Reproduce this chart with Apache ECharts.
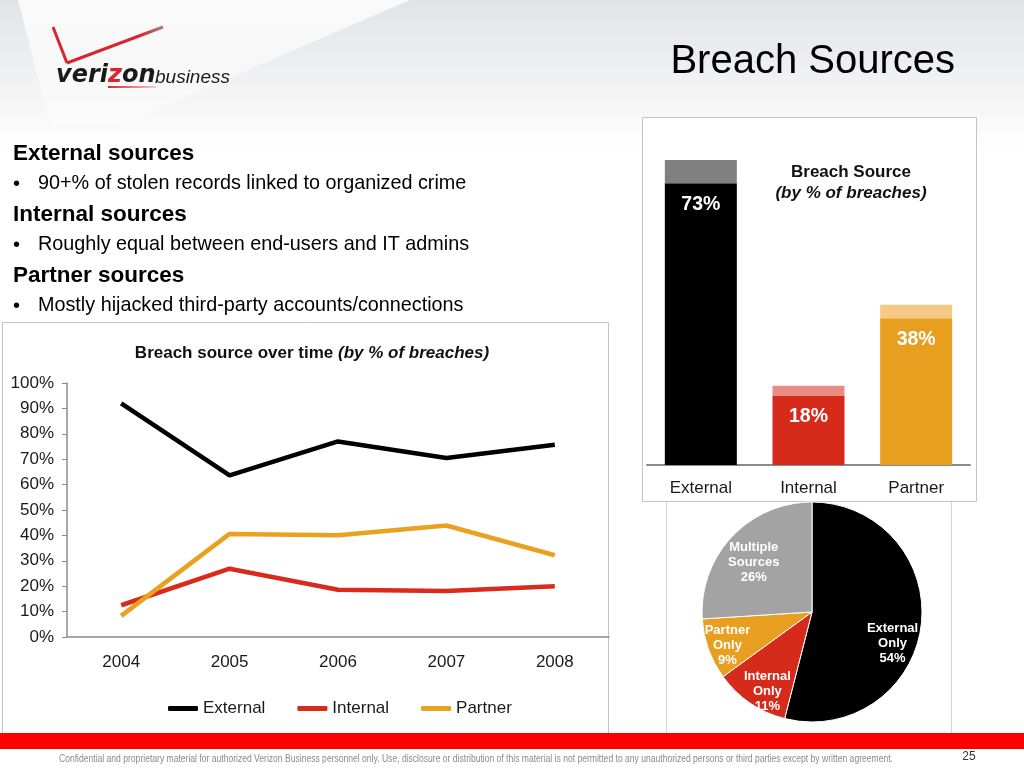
<!DOCTYPE html>
<html><head><meta charset="utf-8">
<script src="https://cdn.jsdelivr.net/npm/echarts@6/dist/echarts.min.js"></script>
<style>html,body{margin:0;padding:0;background:#fff}#c{width:1024px;height:768px}</style>
</head><body><div id="c"></div>
<script>
// ---- data ----
const years = ['2004', '2005', '2006', '2007', '2008'];
const externalOverTime = [92, 63.6, 77, 70.5, 75.7];
const internalOverTime = [12.5, 26.9, 18.6, 18.1, 20];
const partnerOverTime = [8.3, 40.6, 40.1, 43.9, 32.2];
const lineSeriesNames = ['External', 'Internal', 'Partner'];

const barCategories = ['External', 'Internal', 'Partner'];
const barConfirmed = [73, 18, 38];
const barSuspected = [6, 2.5, 3.5];

const pieNames = ['External\nOnly', 'Internal\nOnly', 'Partner\nOnly', 'Multiple\nSources'];
const pieValues = [54, 11, 9, 26];

// ---- styles ----
const F = '"Liberation Sans", Arial, Helvetica, sans-serif';
const lineColors = ['#000000', '#d92b1b', '#e8a220'];
const barMain = ['#000000', '#d62a1a', '#e89e1f'];
const barCap = ['#808080', '#ea8c84', '#f6ca86'];
const pieColors = ['#000000', '#d62a1a', '#e89e1f', '#a3a3a3'];
const pieLabelShift = [[23, 24], [-12, 31], [-30, 14], [-16, -10]];

const chart = echarts.init(document.getElementById('c'), null, { renderer: 'canvas' });

const graphic = [
  // background
  { type: 'rect', z: -100, shape: { x: 0, y: 0, width: 1024, height: 768 }, style: { fill: '#ffffff' } },
  { type: 'rect', z: -99, shape: { x: 0, y: 0, width: 1024, height: 150 },
    style: { fill: new echarts.graphic.LinearGradient(0, 0, 0, 1, [
      { offset: 0, color: '#e1e3e4' }, { offset: 0.7, color: '#f6f6f7' }, { offset: 1, color: '#ffffff' }]) } },
  { type: 'polygon', z: -98, shape: { points: [[18, 0], [410, 0], [120, 125], [50, 125]] },
    style: { fill: new echarts.graphic.LinearGradient(0, 0, 0, 1, [
      { offset: 0, color: 'rgba(252,252,252,0.95)' }, { offset: 1, color: 'rgba(255,255,255,0.3)' }]) } },
  // boxes
  { type: 'rect', z: -90, shape: { x: 2.5, y: 322.5, width: 606, height: 420 }, style: { fill: '#fff', stroke: '#c4c4c4', lineWidth: 1 } },
  { type: 'rect', z: -90, shape: { x: 666.5, y: 495, width: 285, height: 250 }, style: { fill: '#fff', stroke: '#d4d4d4', lineWidth: 1 } },
  { type: 'rect', z: -89, shape: { x: 642.5, y: 117.5, width: 334, height: 384 }, style: { fill: '#fff', stroke: '#c4c4c4', lineWidth: 1 } },
  // red band
  { type: 'rect', z: 50, shape: { x: 0, y: 733, width: 1024, height: 16 }, style: { fill: '#ff0000' } },
  { type: 'rect', z: 50, shape: { x: 0, y: 749, width: 1024, height: 19 }, style: { fill: '#ffffff' } },
  // logo
  { type: 'polyline', z: 20, shape: { points: [[53, 27], [67, 63]] }, style: { stroke: '#d8262e', lineWidth: 3, fill: null } },
  { type: 'polyline', z: 20, shape: { points: [[67, 63], [163, 27]] },
    style: { fill: null, lineWidth: 3, stroke: new echarts.graphic.LinearGradient(0, 0, 1, 0, [
      { offset: 0, color: '#d8262e' }, { offset: 0.75, color: '#d8262e' }, { offset: 1, color: '#9a8f92' }]) } },
  { type: 'text', z: 20, style: { x: 56, y: 76, text: '{a|veri}{z|z}{a|on}', verticalAlign: 'middle',
    rich: { a: { fontFamily: '"DejaVu Sans", sans-serif', fontWeight: 'bold', fontStyle: 'italic', fontSize: 24, fill: '#1a1a1a' },
            z: { fontFamily: '"DejaVu Sans", sans-serif', fontWeight: 'bold', fontStyle: 'italic', fontSize: 24, fill: '#d8262e' } } } },
  { type: 'rect', z: 20, shape: { x: 108, y: 86, width: 48, height: 2 },
    style: { fill: new echarts.graphic.LinearGradient(0, 0, 1, 0, [{ offset: 0, color: '#d8262e' }, { offset: 1, color: 'rgba(216,38,46,0.2)' }]) } },
  { type: 'text', z: 20, style: { x: 155, y: 78, text: 'business', verticalAlign: 'middle', font: 'italic 19px ' + F, fill: '#1a1a1a' } },
  // title
  { type: 'text', z: 20, style: { x: 955, y: 62, text: 'Breach Sources', align: 'right', verticalAlign: 'middle', font: '40px ' + F, fill: '#000' } },
  // left text
  { type: 'text', z: 20, style: { x: 13, y: 154, text: 'External sources', verticalAlign: 'middle', font: 'bold 22.5px ' + F, fill: '#000' } },
  { type: 'text', z: 20, style: { x: 13, y: 184, text: '•', verticalAlign: 'middle', font: '20px ' + F, fill: '#000' } },
  { type: 'text', z: 20, style: { x: 38, y: 184, text: '90+% of stolen records linked to organized crime', verticalAlign: 'middle', font: '19.8px ' + F, fill: '#000' } },
  { type: 'text', z: 20, style: { x: 13, y: 215, text: 'Internal sources', verticalAlign: 'middle', font: 'bold 22.5px ' + F, fill: '#000' } },
  { type: 'text', z: 20, style: { x: 13, y: 245, text: '•', verticalAlign: 'middle', font: '20px ' + F, fill: '#000' } },
  { type: 'text', z: 20, style: { x: 38, y: 245, text: 'Roughly equal between end-users and IT admins', verticalAlign: 'middle', font: '19.8px ' + F, fill: '#000' } },
  { type: 'text', z: 20, style: { x: 13, y: 276, text: 'Partner sources', verticalAlign: 'middle', font: 'bold 22.5px ' + F, fill: '#000' } },
  { type: 'text', z: 20, style: { x: 13, y: 306, text: '•', verticalAlign: 'middle', font: '20px ' + F, fill: '#000' } },
  { type: 'text', z: 20, style: { x: 38, y: 306, text: 'Mostly hijacked third-party accounts/connections', verticalAlign: 'middle', font: '19.8px ' + F, fill: '#000' } },
  // chart titles
  { type: 'text', z: 20, style: { x: 312, y: 353, text: '{b|Breach source over time }{i|(by % of breaches)}', align: 'center', verticalAlign: 'middle',
    rich: { b: { fontFamily: F, fontWeight: 'bold', fontSize: 17, fill: '#111' }, i: { fontFamily: F, fontWeight: 'bold', fontStyle: 'italic', fontSize: 17, fill: '#111' } } } },
  { type: 'text', z: 20, style: { x: 851, y: 172, text: 'Breach Source', align: 'center', verticalAlign: 'middle', font: 'bold 17px ' + F, fill: '#111' } },
  { type: 'text', z: 20, style: { x: 851, y: 193, text: '(by % of breaches)', align: 'center', verticalAlign: 'middle', font: 'italic bold 17px ' + F, fill: '#111' } },
  // footer
  { type: 'text', z: 60, x: 59, y: 759, scaleX: 0.856, originX: 0, originY: 0,
    style: { x: 0, y: 0, text: 'Confidential and proprietary material for authorized Verizon Business personnel only. Use, disclosure or distribution of this material is not permitted to any unauthorized persons or third parties except by written agreement.',
    verticalAlign: 'middle', font: '10px ' + F, fill: '#8a8a8a' } },
  { type: 'text', z: 60, style: { x: 969, y: 757, text: '25', align: 'center', verticalAlign: 'middle', font: '12px ' + F, fill: '#333' } }
];

const option = {
  animation: false,
  textStyle: { fontFamily: F },
  graphic: graphic,
  legend: {
    data: lineSeriesNames, left: 168, top: 700, padding: 0, icon: 'roundRect', itemWidth: 30, itemHeight: 5, itemGap: 32,
    textStyle: { fontSize: 17, color: '#1a1a1a', fontFamily: F }
  },
  grid: [
    { left: 67, right: 415, top: 383, bottom: 131 },
    { left: 647, right: 54, top: 79, bottom: 303 }
  ],
  xAxis: [
    { type: 'category', gridIndex: 0, data: years, boundaryGap: true,
      axisLine: { lineStyle: { color: '#8c8c8c', width: 1.5 } }, axisTick: { show: false },
      axisLabel: { fontSize: 17, color: '#1a1a1a', margin: 17, fontFamily: F } },
    { type: 'category', gridIndex: 1, data: barCategories,
      axisLine: { lineStyle: { color: '#8a8a8a', width: 2 } }, axisTick: { show: false },
      axisLabel: { fontSize: 17, color: '#1a1a1a', margin: 15, fontFamily: F } }
  ],
  yAxis: [
    { type: 'value', gridIndex: 0, min: 0, max: 100, interval: 10,
      axisLine: { show: true, lineStyle: { color: '#8c8c8c', width: 1.5 } },
      axisTick: { show: true, length: 5, lineStyle: { color: '#8c8c8c' } },
      splitLine: { show: false },
      axisLabel: { formatter: '{value}%', fontSize: 17, color: '#1a1a1a', margin: 13, fontFamily: F } },
    { type: 'value', gridIndex: 1, min: 0, max: 100, show: false }
  ],
  series: [
    { name: lineSeriesNames[0], type: 'line', xAxisIndex: 0, yAxisIndex: 0, data: externalOverTime, symbol: 'none',
      itemStyle: { color: lineColors[0] }, lineStyle: { width: 4.5, color: lineColors[0] } },
    { name: lineSeriesNames[1], type: 'line', xAxisIndex: 0, yAxisIndex: 0, data: internalOverTime, symbol: 'none',
      itemStyle: { color: lineColors[1] }, lineStyle: { width: 4.5, color: lineColors[1] } },
    { name: lineSeriesNames[2], type: 'line', xAxisIndex: 0, yAxisIndex: 0, data: partnerOverTime, symbol: 'none',
      itemStyle: { color: lineColors[2] }, lineStyle: { width: 4.5, color: lineColors[2] } },
    { name: 'confirmed', type: 'bar', xAxisIndex: 1, yAxisIndex: 1, stack: 'b', barWidth: 72,
      data: barConfirmed.map((v, i) => ({ value: v, itemStyle: { color: barMain[i] } })),
      label: { show: true, position: 'insideTop', distance: 11, formatter: '{c}%', color: '#fff', fontWeight: 'bold', fontSize: 19.5, fontFamily: F } },
    { name: 'suspected', type: 'bar', xAxisIndex: 1, yAxisIndex: 1, stack: 'b', barWidth: 72,
      data: barSuspected.map((v, i) => ({ value: v, itemStyle: { color: barCap[i] } })) },
    { name: 'pie', type: 'pie', center: [812, 612], radius: [0, 110], startAngle: 90, clockwise: true, z: 3,
      itemStyle: { borderColor: '#ffffff', borderWidth: 1 },
      label: { show: false }, labelLine: { show: false }, emphasis: { disabled: true },
      data: pieValues.map((v, i) => ({ name: pieNames[i], value: v, itemStyle: { color: pieColors[i] } })) },
    { name: 'pieLabels', type: 'pie', center: [812, 612], radius: [0, 110], startAngle: 90, clockwise: true, z: 5, silent: true,
      avoidLabelOverlap: false,
      itemStyle: { color: 'rgba(0,0,0,0)', borderWidth: 0 }, labelLine: { show: false }, emphasis: { disabled: true },
      label: { show: true, position: 'inside', color: '#ffffff', fontWeight: 'bold', fontSize: 13, lineHeight: 15, fontFamily: F,
        overflow: 'none', formatter: p => p.name + '\n' + p.value + '%' },
      labelLayout: p => ({ dx: pieLabelShift[p.dataIndex][0], dy: pieLabelShift[p.dataIndex][1] }),
      data: pieValues.map((v, i) => ({ name: pieNames[i], value: v })) }
  ]
};
chart.setOption(option);
</script>
</body></html>
